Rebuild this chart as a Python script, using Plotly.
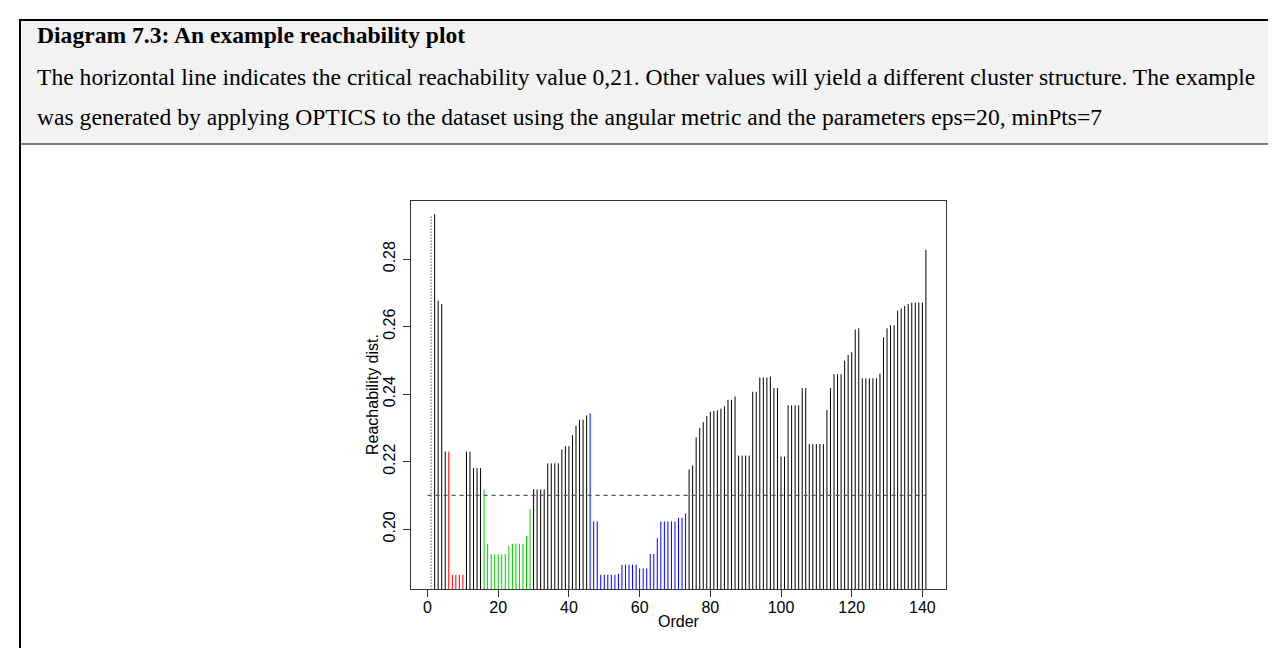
import plotly.graph_objects as go

W, H = 1276, 648

# reachability distance per point, in OPTICS order (first point is "undefined", drawn dotted)
reach = [
    0.2929, 0.2933, 0.2677, 0.2667, 0.2230, 0.2230, 0.1865, 0.1865, 0.1865, 0.1865,
    0.2230, 0.2230, 0.2181, 0.2181, 0.2181, 0.2118, 0.1957, 0.1926, 0.1926, 0.1926,
    0.1926, 0.1926, 0.1951, 0.1957, 0.1957, 0.1957, 0.1957, 0.1980, 0.2059, 0.2118,
    0.2118, 0.2118, 0.2118, 0.2195, 0.2195, 0.2195, 0.2195, 0.2236, 0.2246, 0.2246,
    0.2278, 0.2306, 0.2324, 0.2324, 0.2337, 0.2343, 0.2023, 0.2023, 0.1865, 0.1865,
    0.1865, 0.1865, 0.1865, 0.1868, 0.1895, 0.1895, 0.1895, 0.1895, 0.1895, 0.1884,
    0.1884, 0.1884, 0.1927, 0.1927, 0.1973, 0.2023, 0.2023, 0.2023, 0.2023, 0.2023,
    0.2034, 0.2034, 0.2047, 0.2177, 0.2189, 0.2272, 0.2300, 0.2317, 0.2335, 0.2348,
    0.2350, 0.2352, 0.2357, 0.2364, 0.2383, 0.2383, 0.2393, 0.2218, 0.2218, 0.2218,
    0.2218, 0.2407, 0.2407, 0.2449, 0.2449, 0.2449, 0.2452, 0.2418, 0.2418, 0.2215,
    0.2215, 0.2367, 0.2367, 0.2367, 0.2367, 0.2418, 0.2418, 0.2252, 0.2252, 0.2252,
    0.2252, 0.2252, 0.2353, 0.2418, 0.2459, 0.2459, 0.2459, 0.2499, 0.2516, 0.2524,
    0.2591, 0.2595, 0.2447, 0.2447, 0.2447, 0.2447, 0.2447, 0.2461, 0.2568, 0.2595,
    0.2604, 0.2604, 0.2647, 0.2654, 0.2661, 0.2667, 0.2671, 0.2671, 0.2671, 0.2671,
    0.2827,
]

# cluster membership (0 = noise)
cluster = [
    0, 0, 0, 0, 0, 1, 1, 1, 1, 1,
    0, 0, 0, 0, 0, 2, 2, 2, 2, 2,
    2, 2, 2, 2, 2, 2, 2, 2, 2, 0,
    0, 0, 0, 0, 0, 0, 0, 0, 0, 0,
    0, 0, 0, 0, 0, 3, 3, 3, 3, 3,
    3, 3, 3, 3, 3, 3, 3, 3, 3, 3,
    3, 3, 3, 3, 3, 3, 3, 3, 3, 3,
    3, 3, 3, 0, 0, 0, 0, 0, 0, 0,
    0, 0, 0, 0, 0, 0, 0, 0, 0, 0,
    0, 0, 0, 0, 0, 0, 0, 0, 0, 0,
    0, 0, 0, 0, 0, 0, 0, 0, 0, 0,
    0, 0, 0, 0, 0, 0, 0, 0, 0, 0,
    0, 0, 0, 0, 0, 0, 0, 0, 0, 0,
    0, 0, 0, 0, 0, 0, 0, 0, 0, 0,
    0,
]

threshold = 0.21
colors = {0: "black", 1: "red", 2: "#00CD00", 3: "blue"}

caption_title = "Diagram 7.3: An example reachability plot"
caption_lines = [
    "The horizontal line indicates the critical reachability value 0,21. Other values will yield a different cluster structure. The example",
    "was generated by applying OPTICS to the dataset using the angular metric and the parameters eps=20, minPts=7",
]


def px(x):
    return x / W


def py(y):
    return 1 - y / H


order = list(range(1, len(reach) + 1))
fig = go.Figure()

# first point: undefined reachability, dotted
fig.add_trace(go.Scatter(
    x=[order[0], order[0]], y=[0, reach[0]], mode="lines",
    line=dict(color="black", width=1, dash="1px,2px"), hoverinfo="skip"))

# the other points as vertical lines, one trace per colour
for cid, col in colors.items():
    xs, ys = [], []
    for o, r, c in zip(order[1:], reach[1:], cluster[1:]):
        if c == cid:
            xs += [o, o, None]
            ys += [0, r, None]
    fig.add_trace(go.Scatter(x=xs, y=ys, mode="lines",
                             line=dict(color=col, width=1), hoverinfo="skip"))

fig.add_trace(go.Scatter(
    x=[0, order[-1]], y=[threshold, threshold], mode="lines",
    line=dict(color="#555555", width=1.2, dash="4px,4px"), hoverinfo="skip"))

axis_font = dict(family="Liberation Sans, Arial", size=16, color="black")

fig.update_layout(
    width=W, height=H,
    margin=dict(l=0, r=0, t=0, b=0),
    paper_bgcolor="white", plot_bgcolor="white",
    showlegend=False,
    xaxis=dict(domain=[px(403.3), px(937.7)], range=[-4.6, 146.6],
               tickvals=[0, 20, 40, 60, 80, 100, 120, 140],
               showgrid=False, zeroline=False, showline=True, mirror=True,
               linecolor="#333333", linewidth=1,
               ticks="outside", ticklen=7, tickcolor="#333333",
               ticklabelstandoff=-3, tickfont=axis_font),
    yaxis=dict(domain=[py(581), py(193.3)], range=[0.1823, 0.2971],
               tickvals=[0.20, 0.22, 0.24, 0.26, 0.28],
               ticktext=["0.20", "0.22", "0.24", "0.26", "0.28"],
               tickangle=-90,
               showgrid=False, zeroline=False, showline=True, mirror=True,
               linecolor="#333333", linewidth=1,
               ticks="outside", ticklen=7, tickcolor="#333333",
               ticklabelstandoff=2, tickfont=axis_font),
)

# caption box of the document page
fig.add_shape(type="rect", xref="paper", yref="paper",
              x0=px(12), x1=1.0, y0=py(136), y1=py(12),
              fillcolor="#F2F2F2", line=dict(width=0), layer="below")
fig.add_shape(type="line", xref="paper", yref="paper",
              x0=px(11), x1=1.0, y0=py(12), y1=py(12),
              line=dict(color="black", width=2))
fig.add_shape(type="line", xref="paper", yref="paper",
              x0=px(12), x1=1.0, y0=py(136), y1=py(136),
              line=dict(color="black", width=1))
fig.add_shape(type="line", xref="paper", yref="paper",
              x0=px(12), x1=px(12), y0=py(11), y1=0,
              line=dict(color="black", width=2))

serif = dict(family="Liberation Serif, Times New Roman", size=23.6, color="black")
fig.add_annotation(x=px(26.5), y=py(27), xref="paper", yref="paper",
                   text="<b>" + caption_title + "</b>", showarrow=False,
                   xanchor="left", yanchor="middle", font=serif)
for k, line in enumerate(caption_lines):
    fig.add_annotation(x=px(26.5), y=py(69 + 40 * k), xref="paper", yref="paper",
                       text=line, showarrow=False,
                       xanchor="left", yanchor="middle", font=serif)

fig.add_annotation(x=px(670.5), y=py(613), xref="paper", yref="paper",
                   text="Order", showarrow=False,
                   xanchor="center", yanchor="middle", font=axis_font)
fig.add_annotation(x=px(364), y=py(387), xref="paper", yref="paper",
                   text="Reachability dist.", showarrow=False, textangle=-90,
                   xanchor="center", yanchor="middle", font=axis_font)

fig.write_html("out.html")
